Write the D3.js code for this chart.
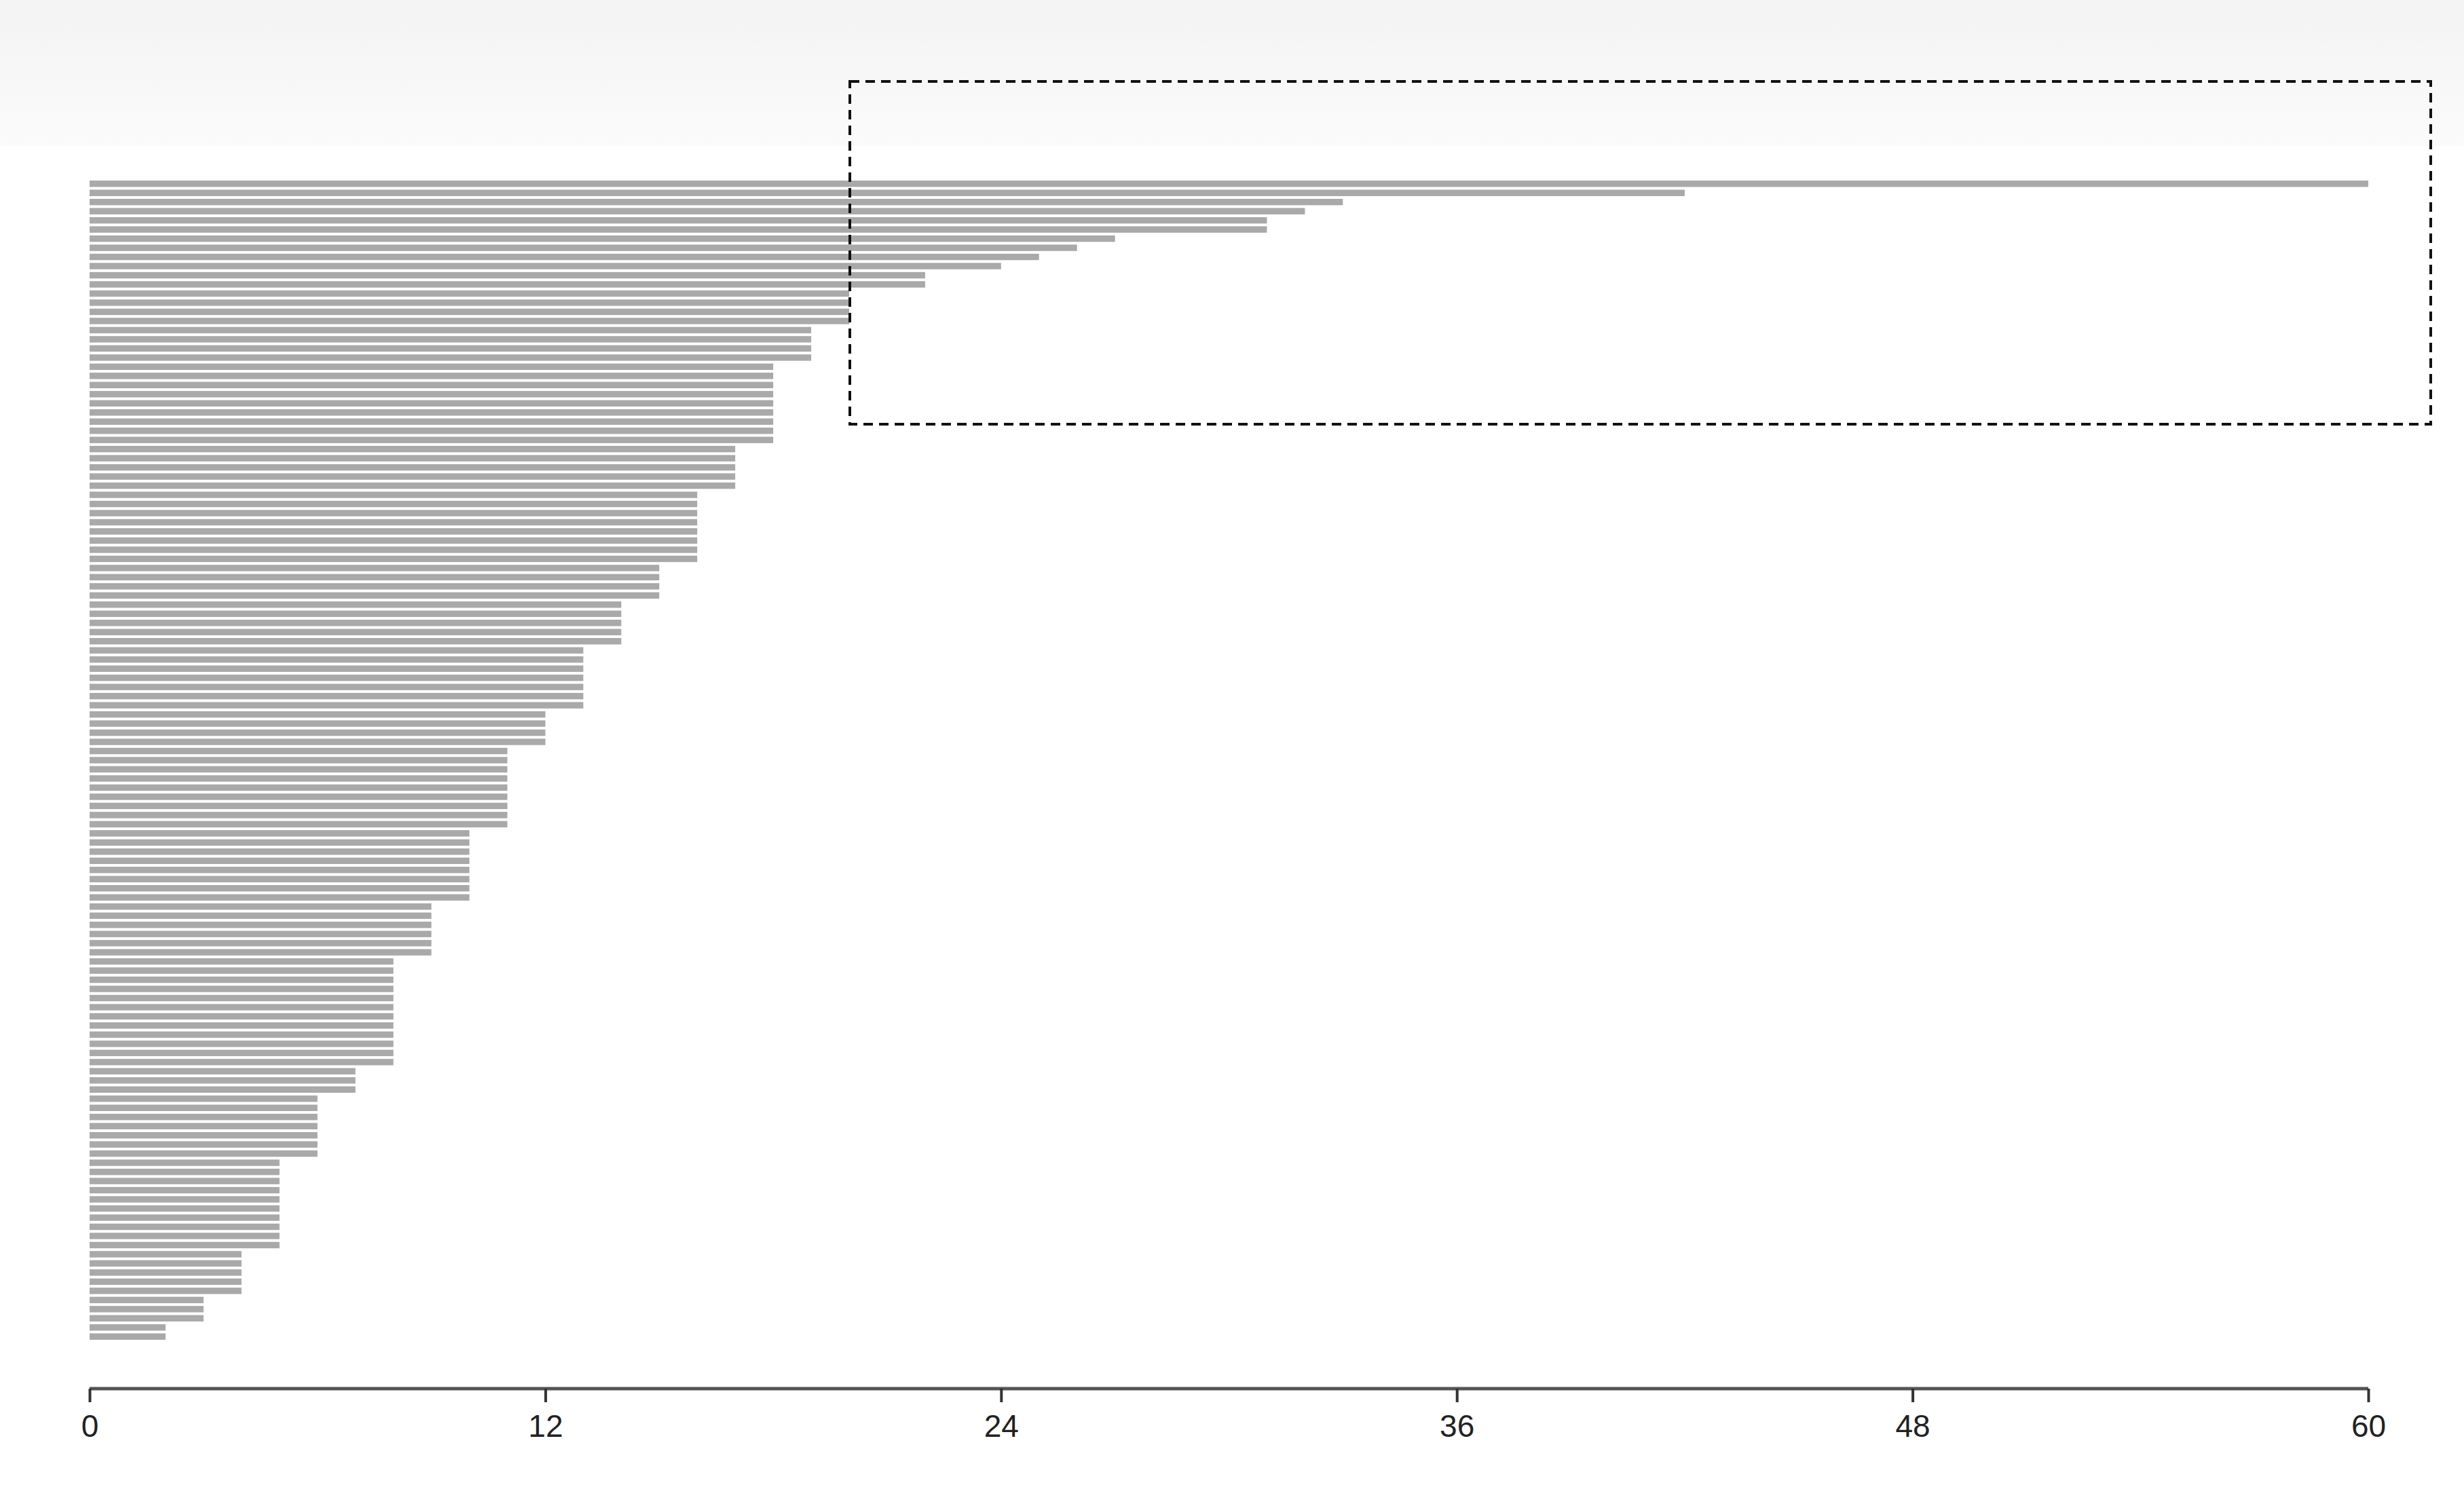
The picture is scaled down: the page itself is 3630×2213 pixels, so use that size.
<!DOCTYPE html>
<html><head><meta charset="utf-8">
<script src="https://cdn.jsdelivr.net/npm/d3@7"></script>
<style>html,body{margin:0;background:#fff}</style></head>
<body><svg id="c" width="3630" height="2213"></svg>
<script>
const levels = [60,42,33,32,31,27,26,25,24,22,20,19,18,17,16,15,14,13,12,11,10,9,8,7,6,5,4,3,2];
const counts = [1,1,1,1,2,1,1,1,1,2,4,4,9,5,8,4,5,7,4,9,8,6,12,3,7,10,5,3,2];
const values = [];
levels.forEach((v,i)=>{for(let k=0;k<counts[i];k++) values.push(v);});
const tickValues = [0,12,24,36,48,60];

const svg = d3.select("#c");
const defs = svg.append("defs");
const g = defs.append("linearGradient").attr("id","bg").attr("x1",0).attr("x2",0).attr("y1",0).attr("y2",1);
g.append("stop").attr("offset","0%").attr("stop-color","#f3f3f3");
g.append("stop").attr("offset","100%").attr("stop-color","#fbfbfb");
svg.append("rect").attr("x",0).attr("y",0).attr("width",3630).attr("height",215).attr("fill","url(#bg)");

const x = d3.scaleLinear().domain([0,60]).range([132,3489]);
const y = d3.scaleBand().domain(d3.range(values.length)).range([266,1974]).paddingInner(0.3);

svg.append("g").selectAll("rect").data(values).join("rect")
  .attr("x",x(0)).attr("y",(d,i)=>y(i)).attr("width",d=>x(d)-x(0)).attr("height",y.bandwidth())
  .attr("fill","#a9a9a9");

const ax = svg.append("g").attr("transform","translate(0,2046)")
  .call(d3.axisBottom(x).tickValues(tickValues).tickSize(20).tickPadding(18));
ax.select(".domain").attr("stroke","#555").attr("stroke-width",5).attr("d",`M${x(0)},0H${x(60)}`);
ax.selectAll(".tick line").attr("stroke","#333").attr("stroke-width",4);
ax.selectAll(".tick text").attr("font-family","Liberation Sans, Arial, sans-serif").attr("font-size",46).attr("fill","#222");

svg.append("rect").attr("x",1252).attr("y",120).attr("width",3581-1252).attr("height",625-120)
  .attr("fill","none").attr("stroke","#111").attr("stroke-width",4).attr("stroke-dasharray","14,9");
</script></body></html>
